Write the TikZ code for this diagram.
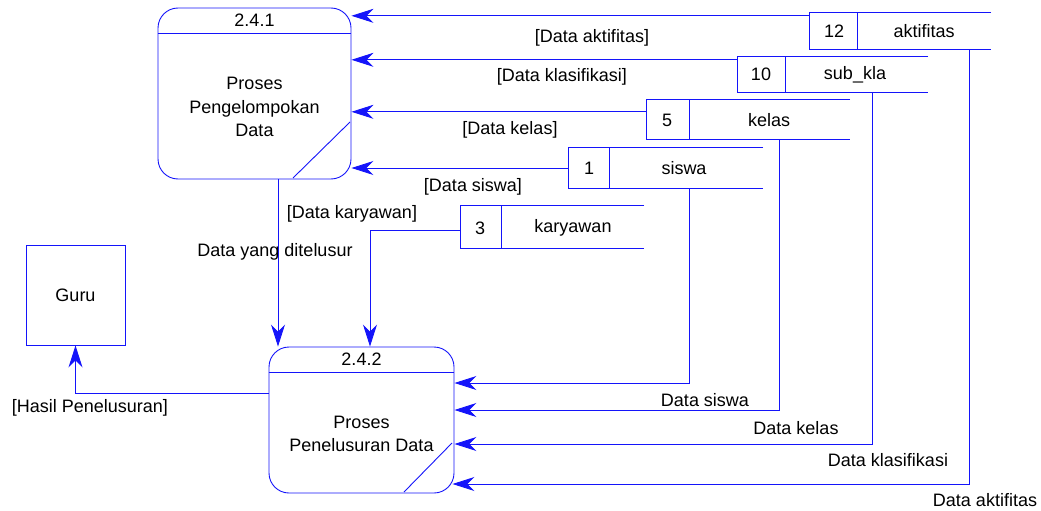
\documentclass[tikz,border=0pt]{standalone}
\usepackage{fontspec}
\setmainfont{Liberation Sans}
\usetikzlibrary{arrows.meta}
\definecolor{dfd}{RGB}{20,20,250}
\begin{document}
\begin{tikzpicture}[x=1pt,y=-1pt,
  txt/.style={inner sep=0pt, text=black, font=\fontsize{18}{23.5}\selectfont},
  proc/.style={draw=dfd, line width=0.9pt, rounded corners=20pt},
  ent/.style={draw=dfd, line width=0.9pt},
  box/.style={inner sep=0pt},
  edge/.style={draw=dfd, line width=0.9pt},
  flow/.style={draw=dfd, line width=0.9pt, -{Stealth[length=22pt,width=14pt,inset=7pt]}}]
\useasboundingbox (0,0) rectangle (1041,511);

% processes
\node[proc, minimum width=193pt, minimum height=171pt] (p1) at (254.5,93.5) {};
\draw[edge] (p1.west |- 0,33) -- (p1.east |- 0,33);
\draw[edge] (293,178) -- (350,122);
\node[txt] (p1n) at (254.5,20) {2.4.1};
\node[txt, align=center] (p1t) at (254.5,107) {Proses\\Pengelompokan\\Data};

\node[proc, minimum width=185pt, minimum height=146pt] (p2) at (361.5,420) {};
\draw[edge] (p2.west |- 0,372) -- (p2.east |- 0,372);
\draw[edge] (404,492) -- (452,443);
\node[txt] (p2n) at (361.5,359) {2.4.2};
\node[txt, align=center] (p2t) at (361.5,434) {Proses\\Penelusuran Data};

% external entity
\node[ent, minimum width=99pt, minimum height=100pt] (guru) at (75.5,295) {};
\node[txt] (gurut) at (75.5,295) {Guru};

% data stores
\node[box, minimum width=181pt, minimum height=36pt] (s12) at (900.5,31) {};
\draw[edge] (s12.north east) -- (s12.north west) -- (s12.south west) -- (s12.south east);
\draw[edge] (857,13) -- (857,49);
\node[txt] (s12n) at (834,31) {12};
\node[txt] (s12t) at (924,31) {aktifitas};

\node[box, minimum width=190pt, minimum height=35pt] (s10) at (833,74.5) {};
\draw[edge] (s10.north east) -- (s10.north west) -- (s10.south west) -- (s10.south east);
\draw[edge] (785,57) -- (785,92);
\node[txt] (s10n) at (761,74.5) {10};
\node[txt] (s10t) at (855,74.5) {sub\_kla};

\node[box, minimum width=203pt, minimum height=39pt] (s5) at (748.5,119.5) {};
\draw[edge] (s5.north east) -- (s5.north west) -- (s5.south west) -- (s5.south east);
\draw[edge] (689,100) -- (689,139);
\node[txt] (s5n) at (667,120) {5};
\node[txt] (s5t) at (769,120) {kelas};

\node[box, minimum width=194pt, minimum height=40pt] (s1) at (666,168) {};
\draw[edge] (s1.north east) -- (s1.north west) -- (s1.south west) -- (s1.south east);
\draw[edge] (609,148) -- (609,188);
\node[txt] (s1n) at (589,168) {1};
\node[txt] (s1t) at (684,168) {siswa};

\node[box, minimum width=183pt, minimum height=42pt] (s3) at (552.5,227) {};
\draw[edge] (s3.north east) -- (s3.north west) -- (s3.south west) -- (s3.south east);
\draw[edge] (501,206) -- (501,248);
\node[txt] (s3n) at (480,228) {3};
\node[txt] (s3t) at (573,228) {karyawan};

% flows into 2.4.1
\draw[flow] ([yshift=-3pt]s12.north west) -- ([yshift=-3pt]s12.north west -| p1.east);
\draw[flow] ([yshift=-3pt]s10.north west) -- ([yshift=-3pt]s10.north west -| p1.east);
\draw[flow] ([yshift=-12pt]s5.north west) -- ([yshift=-12pt]s5.north west -| p1.east);
\draw[flow] (s1.west) -- (s1.west -| p1.east);

% karyawan and 2.4.1 into 2.4.2
\coordinate (k1) at (370,230);
\draw[flow] (s3.west |- k1) -- (k1) -- (k1 |- p2.north);
\coordinate (d1) at (278,0);
\draw[flow] (d1 |- p1.south) -- (d1 |- p2.north);

% stores into 2.4.2
\coordinate (c1) at (689,383);
\coordinate (c5) at (779,410);
\coordinate (c10) at (872,444);
\coordinate (c12) at (969,484);
\draw[flow] (c1 |- s1.south) -- (c1) -- (c1 -| p2.east);
\draw[flow] (c5 |- s5.south) -- (c5) -- (c5 -| p2.east);
\draw[flow] (c10 |- s10.south) -- (c10) -- (c10 -| p2.east);
\draw[flow] (c12 |- s12.south) -- (c12) -- ([xshift=-2pt]c12 -| p2.east);

% 2.4.2 to Guru
\coordinate (g1) at (75.5,393);
\draw[flow] (g1 -| p2.west) -- (g1) -- (guru.south);

% labels
\node[txt] (l1) at (592,38) {[Data aktifitas]};
\node[txt] (l2) at (562,77) {[Data klasifikasi]};
\node[txt] (l3) at (510,130) {[Data kelas]};
\node[txt] (l4) at (473,187) {[Data siswa]};
\node[txt] (l5) at (352,214) {[Data karyawan]};
\node[txt] (l6) at (275,252) {Data yang ditelusur};
\node[txt] (l7) at (90,408) {[Hasil Penelusuran]};
\node[txt] (l8) at (705,400) {Data siswa};
\node[txt] (l9) at (796,428) {Data kelas};
\node[txt] (l10) at (888,460) {Data klasifikasi};
\node[txt] (l11) at (985,500) {Data aktifitas};
\end{tikzpicture}
\end{document}
